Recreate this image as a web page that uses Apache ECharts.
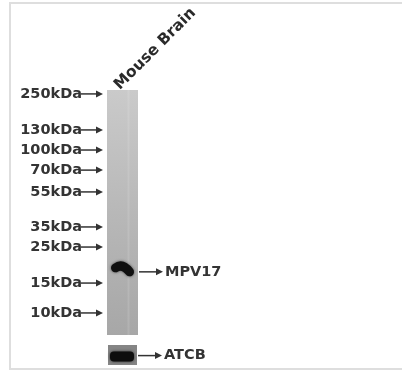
<!DOCTYPE html>
<html>
<head>
<meta charset="utf-8">
<script src="https://cdn.jsdelivr.net/npm/echarts@6/dist/echarts.min.js"></script>
<style>
  html, body { margin: 0; padding: 0; background: #fff; }
  #blot { width: 402px; height: 373px; }
</style>
</head>
<body>
<div id="blot"></div>
<script>
// lane + ladder (migration: 0 = top of lane, 1 = bottom)
const lanes = ['Mouse Brain']
const markerLabels = ['250kDa', '130kDa', '100kDa', '70kDa', '55kDa', '35kDa', '25kDa', '15kDa', '10kDa']
const markerMigration = [0.016, 0.163, 0.245, 0.327, 0.416, 0.559, 0.641, 0.788, 0.910]
const targetLabel = 'MPV17'
const targetMigration = [0.73]
const loadingLabel = 'ATCB'
const loadingMigration = [0.58]

const FONT = 'bold 14.5px "DejaVu Sans"'
const INK = '#333'

// arrow pointing right, tip at (x2, y)
function arrow(x1, x2, y) {
  return [
    { type: 'line', shape: { x1: x1, y1: y, x2: x2 - 4, y2: y }, style: { stroke: INK, lineWidth: 1.5 } },
    { type: 'polygon', shape: { points: [[x2, y], [x2 - 7, y - 3.5], [x2 - 7, y + 3.5]] }, style: { fill: INK } }
  ]
}

const chart = echarts.init(document.getElementById('blot'))

chart.setOption({
  animation: false,
  backgroundColor: '#fff',
  graphic: [{
    type: 'rect',
    shape: { x: 10, y: 3, width: 400, height: 366 },
    style: { fill: 'none', stroke: '#dedede', lineWidth: 2 },
    z: -1
  }],
  grid: [
    { left: 107, top: 90, width: 31, height: 245 },
    { left: 108, top: 345, width: 29, height: 20 }
  ],
  xAxis: [
    {
      gridIndex: 0, type: 'category', data: lanes, position: 'top',
      axisLine: { show: false }, axisTick: { show: false },
      axisLabel: {
        rotate: 45, margin: -3, verticalAlign: 'bottom',
        fontFamily: 'DejaVu Sans', fontWeight: 'bold', fontSize: 15.5, color: '#2a2a2a'
      }
    },
    { gridIndex: 1, type: 'category', data: lanes, show: false }
  ],
  yAxis: [
    { gridIndex: 0, type: 'value', min: 0, max: 1, inverse: true, show: false },
    { gridIndex: 1, type: 'value', min: 0, max: 1, inverse: true, show: false }
  ],
  series: [
    {
      // the lane itself
      type: 'custom', xAxisIndex: 0, yAxisIndex: 0, z: 1,
      data: [[0, 0, 1]],
      renderItem(params, api) {
        const top = api.coord([0, api.value(1)])
        const bot = api.coord([0, api.value(2)])
        const w = api.size([1, 0])[0]
        return {
          type: 'group',
          children: [
            {
              type: 'rect',
              shape: { x: top[0] - w / 2, y: top[1], width: w, height: bot[1] - top[1] },
              style: {
                fill: new echarts.graphic.LinearGradient(0, 0, 0, 1, [
                  { offset: 0, color: '#cacaca' },
                  { offset: 0.5, color: '#b8b8b8' },
                  { offset: 1, color: '#a7a7a7' }
                ])
              }
            },
            {
              type: 'line',
              shape: { x1: top[0] + 6, y1: top[1], x2: top[0] + 6, y2: bot[1] },
              style: { stroke: 'rgba(255,255,255,0.12)', lineWidth: 2 }
            }
          ]
        }
      }
    },
    {
      // ladder labels with arrows
      type: 'custom', xAxisIndex: 0, yAxisIndex: 0, z: 3,
      data: markerMigration.map((m, i) => [0, m, i]),
      renderItem(params, api) {
        const p = api.coord([0, api.value(1)])
        const left = p[0] - api.size([1, 0])[0] / 2
        return {
          type: 'group',
          children: [
            {
              type: 'text',
              style: {
                text: markerLabels[api.value(2)], x: left - 25, y: p[1],
                align: 'right', verticalAlign: 'middle', font: FONT, fill: INK
              }
            }
          ].concat(arrow(left - 26, left - 4, p[1]))
        }
      }
    },
    {
      // MPV17 band
      type: 'custom', xAxisIndex: 0, yAxisIndex: 0, z: 2,
      data: targetMigration.map(m => [0, m]),
      renderItem(params, api) {
        const c = api.coord([0, api.value(1)])
        const right = c[0] + api.size([1, 0])[0] / 2
        return {
          type: 'group',
          children: [
            {
              type: 'bezierCurve',
              shape: { x1: c[0] - 7, y1: c[1] - 1, cpx1: c[0], cpy1: c[1] - 6, x2: c[0] + 7, y2: c[1] + 3 },
              style: { stroke: '#0f0f0f', lineWidth: 9, lineCap: 'round', fill: 'none', shadowBlur: 3, shadowColor: 'rgba(0,0,0,0.6)' }
            },
            {
              type: 'text',
              style: {
                text: targetLabel, x: right + 27, y: c[1] + 3,
                align: 'left', verticalAlign: 'middle', font: FONT, fill: INK
              }
            }
          ].concat(arrow(right + 1, right + 25, c[1] + 3))
        }
      }
    },
    {
      // ATCB loading control
      type: 'custom', xAxisIndex: 1, yAxisIndex: 1, z: 2,
      data: loadingMigration.map(m => [0, m]),
      renderItem(params, api) {
        const c = api.coord([0, api.value(1)])
        const g = api.coord([0, 0])
        const w = api.size([1, 0])[0]
        const h = api.size([0, 1])[1]
        return {
          type: 'group',
          children: [
            {
              type: 'rect',
              shape: { x: g[0] - w / 2, y: g[1], width: w, height: h },
              style: { fill: '#858585' }
            },
            {
              type: 'rect',
              shape: { x: c[0] - w / 2 + 2, y: c[1] - 5, width: w - 5, height: 10, r: 4 },
              style: { fill: '#0d0d0d', shadowBlur: 3, shadowColor: 'rgba(0,0,0,0.7)' }
            },
            {
              type: 'text',
              style: {
                text: loadingLabel, x: c[0] + w / 2 + 27, y: c[1] - 1,
                align: 'left', verticalAlign: 'middle', font: FONT, fill: INK
              }
            }
          ].concat(arrow(c[0] + w / 2 + 1, c[0] + w / 2 + 25, c[1] - 1))
        }
      }
    }
  ]
})
</script>
</body>
</html>
